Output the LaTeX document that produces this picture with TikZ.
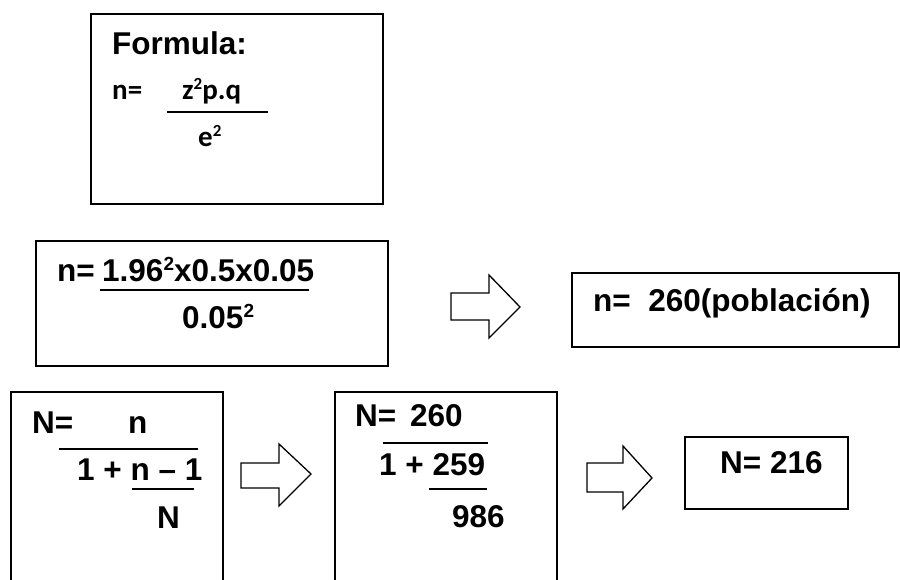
\documentclass[tikz,border=0pt]{standalone}
\usepackage{fontspec}
\setmainfont{Liberation Sans}
\newfontfamily\calfont{Carlito}
\newcommand\sqr{\raisebox{10.5pt}{\fontsize{19}{19}\selectfont 2}}
\newcommand\sqc{\raisebox{10pt}{\fontsize{17}{17}\selectfont 2}}
\tikzset{
  frame/.style={draw, line width=1.5pt, line join=miter},
  fracline/.style={draw, line width=1.5pt},
  blockarrow/.style={draw, line width=1.3pt, line join=miter, fill=white},
  txt/.style={anchor=base west, inner sep=0pt, font=\fontsize{31.5}{31.5}\selectfont\bfseries},
  ctxt/.style={anchor=base west, inner sep=0pt, font=\calfont\fontsize{29}{29}\selectfont\bfseries}
}
\begin{document}
\begin{tikzpicture}[x=1pt,y=-1pt]
\useasboundingbox (0,0) rectangle (900,580);
% box 1
\draw[frame] (91,14) rectangle (383,204);
\node[txt] (f1) at (112,55) {Formula:};
\node[ctxt] (f2) at (112,100) {n=};
\node[ctxt] (f3) at (182,100) {z\sqc p.q};
\draw[fracline] (167,112) -- (268,112);
\node[ctxt] (f4) at (198,147) {e\sqc};
% box 2
\draw[frame] (36,241) rectangle (388,366);
\node[txt] (b1) at (57,281) {n=};
\node[txt] (b2) at (102,281) {1.96\sqr x0.5x0.05};
\draw[fracline] (100,290) -- (309,290);
\node[txt] (b3) at (182,328) {0.05\sqr};
% arrow 1
\draw[blockarrow] (451,293) -- (489,293) -- (489,275) -- (520,307) -- (489,338) -- (489,320) -- (451,320) -- cycle;
% box 3
\draw[frame] (572,273) rectangle (899,347);
\node[txt] (c1) at (593,312) {n=\ \ 260(población)};
% box 4
\draw[frame] (11,582) -- (11,392) -- (223,392) -- (223,582);
\node[txt] (d1) at (32,433) {N=};
\node[txt] (d2) at (128,433) {n};
\draw[fracline] (59,449) -- (198,449);
\node[txt] (d3) at (77,480) {1 + n – 1};
\draw[fracline] (132,489) -- (194,489);
\node[txt] (d4) at (157,528) {N};
% arrow 2
\draw[blockarrow] (241,463) -- (279,463) -- (279,444) -- (311,474) -- (279,506) -- (279,488) -- (241,488) -- cycle;
% box 5
\draw[frame] (335,582) -- (335,392) -- (557,392) -- (557,582);
\node[txt] (e1) at (355,426) {N=};
\node[txt] (e2) at (410,426) {260};
\draw[fracline] (383,443) -- (488,443);
\node[txt] (e3) at (379,475) {1 + 259};
\draw[fracline] (429,489) -- (487,489);
\node[txt] (e4) at (452,527) {986};
% arrow 3
\draw[blockarrow] (587,463) -- (623,463) -- (623,446) -- (652,478) -- (623,509) -- (623,492) -- (587,492) -- cycle;
% box 6
\draw[frame] (685,437) rectangle (848,509);
\node[txt] (g1) at (720,473) {N= 216};
\end{tikzpicture}
\end{document}
